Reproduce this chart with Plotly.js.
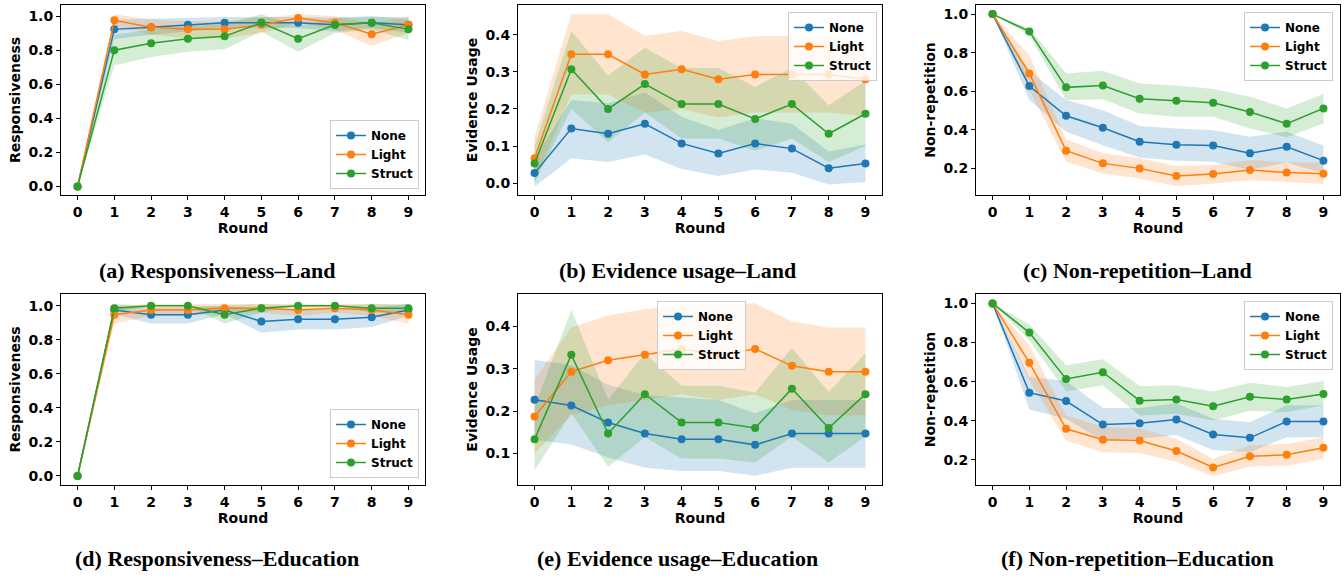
<!DOCTYPE html>
<html>
<head>
<meta charset="utf-8">
<script src="https://cdn.plot.ly/plotly-3.0.1.min.js"></script>
<style>html,body{margin:0;padding:0;background:#fff}#chart{width:1344px;height:578px}</style>
</head>
<body>
<div id="chart"></div>
<script>
// ---------------- DATA ----------------
const rounds = [0, 1, 2, 3, 4, 5, 6, 7, 8, 9];
const seriesNames = ["None", "Light", "Struct"];
const xTickLabels = ["0", "1", "2", "3", "4", "5", "6", "7", "8", "9"];

// (a) Responsiveness – Land
const respLandNone     = [0, 0.922, 0.935, 0.949, 0.961, 0.961, 0.961, 0.949, 0.961, 0.949];
const respLandNoneLo   = [0, 0.865, 0.89, 0.91, 0.93, 0.93, 0.93, 0.91, 0.93, 0.90];
const respLandNoneHi   = [0, 0.98, 0.985, 0.99, 0.995, 0.995, 0.995, 0.99, 0.995, 0.995];
const respLandLight    = [0, 0.975, 0.935, 0.922, 0.922, 0.949, 0.988, 0.961, 0.894, 0.949];
const respLandLightLo  = [0, 0.94, 0.89, 0.87, 0.87, 0.90, 0.96, 0.92, 0.825, 0.90];
const respLandLightHi  = [0, 1.01, 0.98, 0.97, 0.97, 0.99, 1.01, 1.0, 0.96, 0.995];
const respLandStruct   = [0, 0.80, 0.841, 0.867, 0.881, 0.961, 0.867, 0.949, 0.961, 0.922];
const respLandStructLo = [0, 0.71, 0.76, 0.79, 0.805, 0.91, 0.79, 0.90, 0.92, 0.86];
const respLandStructHi = [0, 0.89, 0.92, 0.94, 0.955, 1.01, 0.94, 0.99, 1.0, 0.98];

// (b) Evidence usage – Land
const evidLandNone     = [0.027, 0.147, 0.133, 0.16, 0.107, 0.08, 0.107, 0.093, 0.04, 0.053];
const evidLandNoneLo   = [-0.01, 0.067, 0.057, 0.077, 0.038, 0.019, 0.037, 0.028, -0.004, 0.003];
const evidLandNoneHi   = [0.065, 0.224, 0.215, 0.244, 0.179, 0.143, 0.175, 0.16, 0.085, 0.104];
const evidLandLight    = [0.067, 0.347, 0.347, 0.293, 0.307, 0.28, 0.293, 0.293, 0.293, 0.28];
const evidLandLightLo  = [0.005, 0.239, 0.239, 0.19, 0.20, 0.177, 0.19, 0.19, 0.19, 0.18];
const evidLandLightHi  = [0.125, 0.455, 0.455, 0.397, 0.41, 0.383, 0.396, 0.396, 0.396, 0.38];
const evidLandStruct   = [0.053, 0.307, 0.2, 0.267, 0.213, 0.213, 0.173, 0.213, 0.133, 0.187];
const evidLandStructLo = [0.0, 0.20, 0.11, 0.19, 0.12, 0.12, 0.087, 0.12, 0.057, 0.10];
const evidLandStructHi = [0.10, 0.41, 0.29, 0.365, 0.31, 0.31, 0.26, 0.31, 0.21, 0.275];

// (c) Non-repetition – Land
const nrepLandNone     = [1.0, 0.627, 0.473, 0.411, 0.338, 0.323, 0.318, 0.278, 0.312, 0.24];
const nrepLandNoneLo   = [1.0, 0.554, 0.39, 0.32, 0.257, 0.24, 0.235, 0.191, 0.23, 0.174];
const nrepLandNoneHi   = [1.0, 0.705, 0.554, 0.502, 0.42, 0.407, 0.398, 0.364, 0.39, 0.318];
const nrepLandLight    = [1.0, 0.692, 0.292, 0.226, 0.2, 0.16, 0.171, 0.191, 0.179, 0.172];
const nrepLandLightLo  = [1.0, 0.606, 0.235, 0.174, 0.148, 0.108, 0.122, 0.139, 0.13, 0.119];
const nrepLandLightHi  = [1.0, 0.787, 0.35, 0.278, 0.252, 0.212, 0.218, 0.243, 0.23, 0.23];
const nrepLandStruct   = [1.0, 0.91, 0.62, 0.63, 0.561, 0.551, 0.54, 0.492, 0.432, 0.511];
const nrepLandStructLo = [1.0, 0.89, 0.554, 0.558, 0.485, 0.468, 0.468, 0.407, 0.361, 0.433];
const nrepLandStructHi = [1.0, 0.926, 0.692, 0.706, 0.64, 0.63, 0.611, 0.571, 0.511, 0.585];

// (d) Responsiveness – Education
const respEduNone     = [0, 0.975, 0.947, 0.947, 0.975, 0.908, 0.92, 0.92, 0.933, 0.975];
const respEduNoneLo   = [0, 0.95, 0.895, 0.895, 0.95, 0.841, 0.86, 0.86, 0.875, 0.94];
const respEduNoneHi   = [0, 1.0, 0.99, 0.99, 1.0, 0.98, 0.98, 0.98, 0.99, 1.01];
const respEduLight    = [0, 0.947, 0.975, 0.975, 0.986, 0.986, 0.975, 0.986, 0.975, 0.947];
const respEduLightLo  = [0, 0.895, 0.94, 0.94, 0.96, 0.96, 0.94, 0.96, 0.94, 0.895];
const respEduLightHi  = [0, 1.0, 1.01, 1.01, 1.01, 1.01, 1.01, 1.01, 1.01, 1.0];
const respEduStruct   = [0, 0.986, 1.0, 1.0, 0.947, 0.986, 1.0, 1.0, 0.986, 0.986];
const respEduStructLo = [0, 0.96, 1.0, 1.0, 0.895, 0.96, 1.0, 1.0, 0.96, 0.96];
const respEduStructHi = [0, 1.01, 1.0, 1.0, 1.0, 1.01, 1.0, 1.0, 1.01, 1.01];

// (e) Evidence usage – Education
const evidEduNone     = [0.227, 0.213, 0.173, 0.147, 0.133, 0.133, 0.12, 0.147, 0.147, 0.147];
const evidEduNoneLo   = [0.132, 0.121, 0.09, 0.066, 0.058, 0.058, 0.047, 0.066, 0.066, 0.066];
const evidEduNoneHi   = [0.321, 0.309, 0.262, 0.238, 0.232, 0.226, 0.195, 0.226, 0.226, 0.226];
const evidEduLight    = [0.187, 0.293, 0.32, 0.333, 0.347, 0.333, 0.347, 0.307, 0.293, 0.293];
const evidEduLightLo  = [0.10, 0.19, 0.214, 0.226, 0.24, 0.226, 0.24, 0.203, 0.19, 0.19];
const evidEduLightHi  = [0.275, 0.398, 0.426, 0.441, 0.451, 0.451, 0.455, 0.412, 0.398, 0.398];
const evidEduStruct   = [0.133, 0.333, 0.147, 0.24, 0.173, 0.173, 0.16, 0.253, 0.16, 0.24];
const evidEduStructLo = [0.06, 0.195, 0.068, 0.138, 0.088, 0.088, 0.078, 0.14, 0.078, 0.14];
const evidEduStructHi = [0.21, 0.44, 0.227, 0.337, 0.26, 0.26, 0.244, 0.35, 0.245, 0.337];

// (f) Non-repetition – Education
const nrepEduNone     = [1.0, 0.544, 0.501, 0.381, 0.388, 0.407, 0.33, 0.313, 0.397, 0.397];
const nrepEduNoneLo   = [1.0, 0.458, 0.41, 0.297, 0.308, 0.328, 0.251, 0.239, 0.316, 0.316];
const nrepEduNoneHi   = [1.0, 0.624, 0.603, 0.465, 0.465, 0.49, 0.41, 0.393, 0.479, 0.479];
const nrepEduLight    = [1.0, 0.697, 0.359, 0.303, 0.299, 0.246, 0.162, 0.219, 0.226, 0.262];
const nrepEduLightLo  = [1.0, 0.607, 0.299, 0.239, 0.236, 0.191, 0.116, 0.166, 0.171, 0.205];
const nrepEduLightHi  = [1.0, 0.786, 0.427, 0.368, 0.362, 0.308, 0.205, 0.274, 0.282, 0.316];
const nrepEduStruct   = [1.0, 0.851, 0.614, 0.648, 0.503, 0.509, 0.475, 0.523, 0.509, 0.537];
const nrepEduStructLo = [1.0, 0.812, 0.55, 0.581, 0.427, 0.436, 0.402, 0.451, 0.444, 0.479];
const nrepEduStructHi = [1.0, 0.892, 0.684, 0.715, 0.578, 0.581, 0.55, 0.595, 0.573, 0.603];

// Captions and axis titles
const captions = ["(a) Responsiveness–Land", "(b) Evidence usage–Land", "(c) Non-repetition–Land",
                  "(d) Responsiveness–Education", "(e) Evidence usage–Education", "(f) Non-repetition–Education"];
const yTitles = ["Responsiveness", "Evidence Usage", "Non-repetition",
                 "Responsiveness", "Evidence Usage", "Non-repetition"];
const xTitle = "Round";

// ---------------- STYLE / LAYOUT ----------------
const colors = ["#1f77b4", "#ff7f0e", "#2ca02c"];
const fills = ["rgba(31,119,180,0.2)", "rgba(255,127,14,0.2)", "rgba(44,160,44,0.2)"];

const panels = [
  {mean: [respLandNone, respLandLight, respLandStruct], lo: [respLandNoneLo, respLandLightLo, respLandStructLo], hi: [respLandNoneHi, respLandLightHi, respLandStructHi]},
  {mean: [evidLandNone, evidLandLight, evidLandStruct], lo: [evidLandNoneLo, evidLandLightLo, evidLandStructLo], hi: [evidLandNoneHi, evidLandLightHi, evidLandStructHi]},
  {mean: [nrepLandNone, nrepLandLight, nrepLandStruct], lo: [nrepLandNoneLo, nrepLandLightLo, nrepLandStructLo], hi: [nrepLandNoneHi, nrepLandLightHi, nrepLandStructHi]},
  {mean: [respEduNone, respEduLight, respEduStruct], lo: [respEduNoneLo, respEduLightLo, respEduStructLo], hi: [respEduNoneHi, respEduLightHi, respEduStructHi]},
  {mean: [evidEduNone, evidEduLight, evidEduStruct], lo: [evidEduNoneLo, evidEduLightLo, evidEduStructLo], hi: [evidEduNoneHi, evidEduLightHi, evidEduStructHi]},
  {mean: [nrepEduNone, nrepEduLight, nrepEduStruct], lo: [nrepEduNoneLo, nrepEduLightLo, nrepEduStructLo], hi: [nrepEduNoneHi, nrepEduLightHi, nrepEduStructHi]}
];

const W = 1344, H = 578;
const xDomPx = [[61, 425], [518, 882], [976, 1340]];
const yDomPx = [[5, 195], [294, 485]];
const yRanges = [[-0.05, 1.065], [-0.032, 0.48], [0.062, 1.047], [-0.053, 1.069], [0.025, 0.477], [0.072, 1.048]];
const yTicks = [[0, 0.2, 0.4, 0.6, 0.8, 1.0], [0, 0.1, 0.2, 0.3, 0.4], [0.2, 0.4, 0.6, 0.8, 1.0],
                [0, 0.2, 0.4, 0.6, 0.8, 1.0], [0.1, 0.2, 0.3, 0.4], [0.2, 0.4, 0.6, 0.8, 1.0]];
const legendPos = [
  {x: 419, y: 189, xa: "right", ya: "bottom"},
  {x: 877, y: 12, xa: "right", ya: "top"},
  {x: 1333, y: 12, xa: "right", ya: "top"},
  {x: 419, y: 478, xa: "right", ya: "bottom"},
  {x: 657, y: 301, xa: "left", ya: "top"},
  {x: 1333, y: 301, xa: "right", ya: "top"}
];
const captionPos = [[217, 270], [677, 270], [1137, 270], [217, 558], [677, 558], [1137, 558]];

const tickFont = {family: "DejaVu Sans", size: 14, color: "#000", weight: "bold"};
const titleFont = {family: "DejaVu Sans", size: 14, color: "#000", weight: "bold"};

const traces = [];
const layout = {
  width: W, height: H,
  margin: {l: 0, r: 0, t: 0, b: 0},
  paper_bgcolor: "#fff", plot_bgcolor: "#fff",
  showlegend: true,
  annotations: []
};

panels.forEach((p, i) => {
  const n = i + 1;
  const xa = n === 1 ? "x" : "x" + n;
  const ya = n === 1 ? "y" : "y" + n;
  const legId = n === 1 ? "legend" : "legend" + n;
  for (let s = 0; s < 3; s++) {
    traces.push({
      x: rounds.concat(rounds.slice().reverse()),
      y: p.hi[s].concat(p.lo[s].slice().reverse()),
      xaxis: xa, yaxis: ya,
      type: "scatter", mode: "lines",
      fill: "toself", fillcolor: fills[s],
      line: {width: 0, color: fills[s]},
      hoverinfo: "skip", showlegend: false, legend: legId
    });
  }
  for (let s = 0; s < 3; s++) {
    traces.push({
      x: rounds, y: p.mean[s],
      xaxis: xa, yaxis: ya,
      type: "scatter", mode: "lines+markers",
      name: seriesNames[s],
      line: {color: colors[s], width: 1.5},
      marker: {color: colors[s], size: 8},
      showlegend: true, legend: legId
    });
  }
  const col = i % 3, row = Math.floor(i / 3);
  const xd = [xDomPx[col][0] / W, xDomPx[col][1] / W];
  const yd = [1 - yDomPx[row][1] / H, 1 - yDomPx[row][0] / H];
  const axCommon = {
    showline: true, mirror: true, linecolor: "#000", linewidth: 1,
    ticks: "outside", ticklen: 4, tickwidth: 1, tickcolor: "#000",
    showgrid: false, zeroline: false, tickfont: tickFont
  };
  layout["xaxis" + (n === 1 ? "" : n)] = Object.assign({}, axCommon, {
    domain: xd, anchor: ya, range: [-0.45, 9.45],
    tickmode: "array", tickvals: rounds, ticktext: xTickLabels,
    title: {text: xTitle, font: titleFont, standoff: 1}
  });
  layout["yaxis" + (n === 1 ? "" : n)] = Object.assign({}, axCommon, {
    domain: yd, anchor: xa, range: yRanges[i],
    tickmode: "array", tickvals: yTicks[i], ticktext: yTicks[i].map(v => v.toFixed(1)),
    title: {text: yTitles[i], font: titleFont, standoff: 4}
  });
  const lp = legendPos[i];
  layout[legId] = {
    x: lp.x / W, y: 1 - lp.y / H, xanchor: lp.xa, yanchor: lp.ya,
    xref: "paper", yref: "paper",
    bgcolor: "rgba(255,255,255,0.8)", bordercolor: "#cccccc", borderwidth: 1,
    font: {family: "DejaVu Sans", size: 12, color: "#000", weight: "bold"},
    tracegroupgap: 0, itemwidth: 30
  };
  layout.annotations.push({
    text: captions[i], showarrow: false,
    xref: "paper", yref: "paper",
    x: captionPos[i][0] / W, y: 1 - captionPos[i][1] / H,
    xanchor: "center", yanchor: "middle",
    font: {family: "Liberation Serif", size: 22, color: "#000", weight: "bold"}
  });
});

Plotly.newPlot("chart", traces, layout, {staticPlot: true, displayModeBar: false});
</script>
</body>
</html>
